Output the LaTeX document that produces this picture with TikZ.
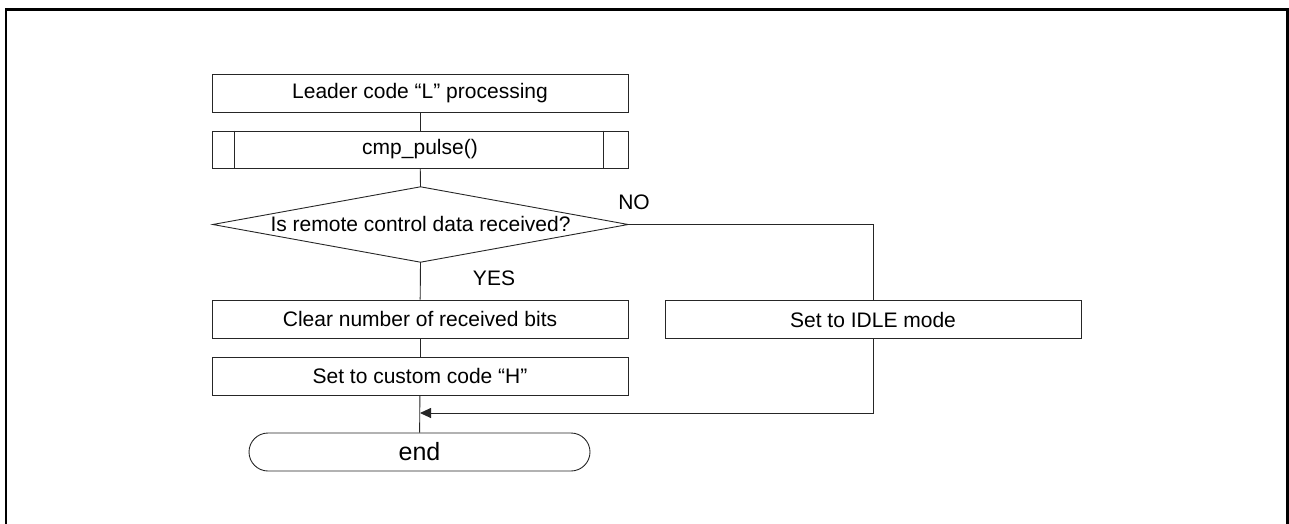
\documentclass[tikz,border=0pt]{standalone}
\usepackage{fontspec}
\setmainfont{Liberation Sans}
\usetikzlibrary{arrows.meta}
\begin{document}
\begin{tikzpicture}[x=1pt,y=-1pt,
  line/.style={draw=black!85,line width=0.9pt},
  procbox/.style={line,rectangle,minimum width=416pt,minimum height=38pt,inner sep=0pt,font=\fontsize{21}{25}\selectfont},
  termbox/.style={line,rectangle,rounded corners=19pt,minimum width=341pt,minimum height=38pt,inner sep=0pt,font=\fontsize{25}{30}\selectfont},
  lbl/.style={font=\fontsize{21}{25}\selectfont,inner sep=0pt}]
\useasboundingbox (0,0) rectangle (1289,524);
\draw[line width=2.4pt] (6,524) -- (6,9.5) -- (1287.5,9.5) -- (1287.5,524);

\node[procbox] (lead) at (420,93) {Leader code “L” processing};
\node[procbox,minimum height=37pt] (cmp) at (420,149.5) {cmp\_pulse()};
\draw[line] ([xshift=23pt]cmp.north west) -- ([xshift=23pt]cmp.south west);
\draw[line] ([xshift=-25pt]cmp.north east) -- ([xshift=-25pt]cmp.south east);
\node[rectangle,minimum width=415pt,minimum height=75pt,inner sep=0pt,font=\fontsize{21}{25}\selectfont] (dec) at (420.5,224.5) {\raisebox{2pt}{Is remote control data received?}};
\draw[line] (dec.north) -- (dec.east) -- (dec.south) -- (dec.west) -- cycle;
\node[procbox] (clr) at (420,319) {Clear number of received bits};
\node[procbox] (cust) at (420,376) {Set to custom code “H”};
\node[procbox] (idle) at (873,319.5) {Set to IDLE mode};
\node[termbox] (end) at (419.5,452) {end};
\coordinate (nocorner) at (873,224.5);
\coordinate (join) at (420,413);
\coordinate (retcorner) at (873,413);

\node[lbl] (no) at (634,202) {NO};
\node[lbl] (yes) at (494,278) {YES};

\draw[line] (lead) -- (cmp);
\draw[line] (cmp) -- (dec.north);
\draw[line] (dec.south) -- (clr);
\draw[line] (clr) -- (cust);
\draw[line] (cust) -- (end);
\draw[line] (dec.east) -- (nocorner) -- (idle.north);
\draw[line,-{Triangle[length=11pt,width=10pt]}] (idle.south) -- (retcorner) -- (join);
\end{tikzpicture}
\end{document}
